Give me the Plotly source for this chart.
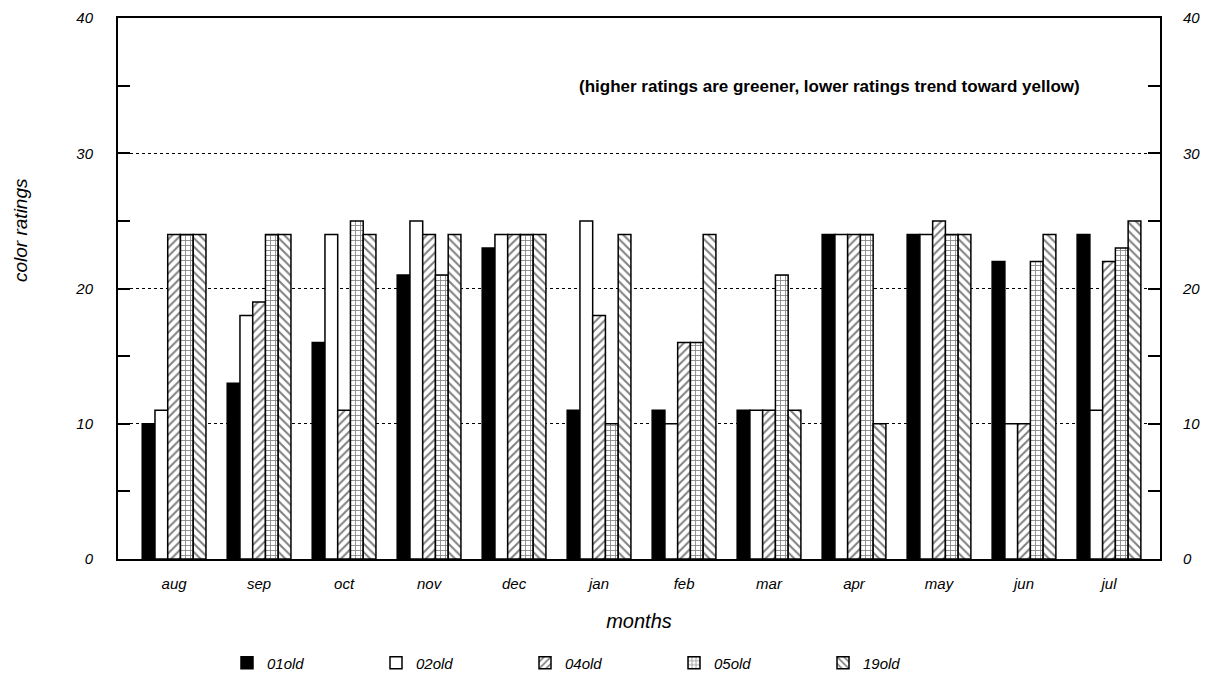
import plotly.graph_objects as go

months = ["aug", "sep", "oct", "nov", "dec", "jan", "feb", "mar", "apr", "may", "jun", "jul"]
series_names = ["01old", "02old", "04old", "05old", "19old"]
v01 = [10, 13, 16, 21, 23, 11, 11, 11, 24, 24, 22, 24]
v02 = [11, 18, 24, 25, 24, 25, 10, 11, 24, 24, 10, 11]
v04 = [24, 19, 11, 24, 24, 18, 16, 11, 24, 25, 10, 22]
v05 = [24, 24, 25, 21, 24, 10, 16, 21, 24, 24, 22, 23]
v19 = [24, 24, 24, 24, 24, 24, 24, 11, 10, 24, 24, 25]
y_ticks = [0, 10, 20, 30, 40]

values = [v01, v02, v04, v05, v19]
styles = [
    dict(color="black", pattern=dict(shape="")),
    dict(color="white", pattern=dict(shape="")),
    dict(color="white", pattern=dict(shape="/", fgcolor="black", bgcolor="white", size=6, solidity=0.33)),
    dict(color="white", pattern=dict(shape="+", fgcolor="black", bgcolor="white", size=5, solidity=0.3)),
    dict(color="white", pattern=dict(shape="\\", fgcolor="black", bgcolor="white", size=6, solidity=0.33)),
]

FONT = "Liberation Sans Narrow, Arial Narrow, Liberation Sans, sans-serif"
IT = dict(family=FONT, color="black", style="italic")
xs = list(range(len(months)))

fig = go.Figure()
for name, vals, st in zip(series_names, values, styles):
    fig.add_trace(go.Bar(
        x=xs, y=vals, name=name,
        marker=dict(color=st["color"], pattern=st["pattern"], line=dict(color="black", width=1.5)),
    ))
# invisible trace to anchor the right axis
fig.add_trace(go.Scatter(x=[0], y=[0], yaxis="y2", mode="markers", marker=dict(opacity=0),
                         showlegend=False, hoverinfo="skip"))

fig.update_layout(
    width=1216, height=682,
    margin=dict(l=118, r=56, t=18, b=123),
    paper_bgcolor="white", plot_bgcolor="white",
    barmode="group", bargap=0.25, bargroupgap=0,
    font=dict(family=FONT, color="black", size=14),
    xaxis=dict(
        tickmode="array", tickvals=xs, ticktext=months,
        range=[-0.66, 11.6], showgrid=False, ticks="", showline=True, linecolor="black",
        linewidth=2, mirror=True, tickfont=dict(IT, size=15), ticklabelstandoff=10,
        automargin=False,
        title=dict(text="months", font=dict(IT, size=20), standoff=23),
    ),
    yaxis=dict(
        range=[0, 40], tickmode="array", tickvals=y_ticks, ticktext=[str(t) for t in y_ticks],
        showgrid=True, gridcolor="black", griddash="dot", gridwidth=1,
        ticks="inside", ticklen=12, tickcolor="black", tickwidth=1.5,
        minor=dict(dtick=5, ticks="inside", ticklen=12, tickcolor="black", showgrid=False),
        showline=True, linecolor="black", linewidth=2, mirror=False, zeroline=False,
        tickfont=dict(IT, size=15), ticklabelstandoff=20, automargin=False,
    ),
    yaxis2=dict(
        overlaying="y", side="right", range=[0, 40], tickmode="array", tickvals=y_ticks,
        ticktext=[str(t) for t in y_ticks], showgrid=False, zeroline=False,
        ticks="inside", ticklen=12, tickcolor="black", tickwidth=1.5,
        minor=dict(dtick=5, ticks="inside", ticklen=12, tickcolor="black"),
        showline=True, linecolor="black", linewidth=2, tickfont=dict(IT, size=15),
        ticklabelstandoff=18, automargin=False,
    ),
    legend=dict(
        orientation="h", xref="container", yref="container",
        x=227 / 1216, xanchor="left", y=(682 - 663) / 682, yanchor="middle",
        font=dict(IT, size=15), itemwidth=30, entrywidthmode="pixels", entrywidth=104,
        traceorder="normal",
    ),
    showlegend=True,
)
fig.add_annotation(
    x=(21 - 118) / 1042, y=(559 - 230) / 541, xref="paper", yref="paper",
    xanchor="center", yanchor="middle", text="color ratings", textangle=-90,
    showarrow=False, font=dict(IT, size=19),
)
fig.add_annotation(
    x=(1082 - 118) / 1042, y=(559 - 87) / 541, xref="paper", yref="paper",
    xanchor="right", yanchor="middle",
    text="<b>(higher ratings are greener, lower ratings trend toward yellow)</b>",
    showarrow=False, font=dict(family="Liberation Sans, Arial, sans-serif", size=17, color="black"),
)

fig.write_html(
    "out.html",
    config={"displayModeBar": False},
    post_script="document.body.style.margin='0';document.body.style.overflow='hidden';"
                "document.documentElement.style.overflow='hidden';",
)
